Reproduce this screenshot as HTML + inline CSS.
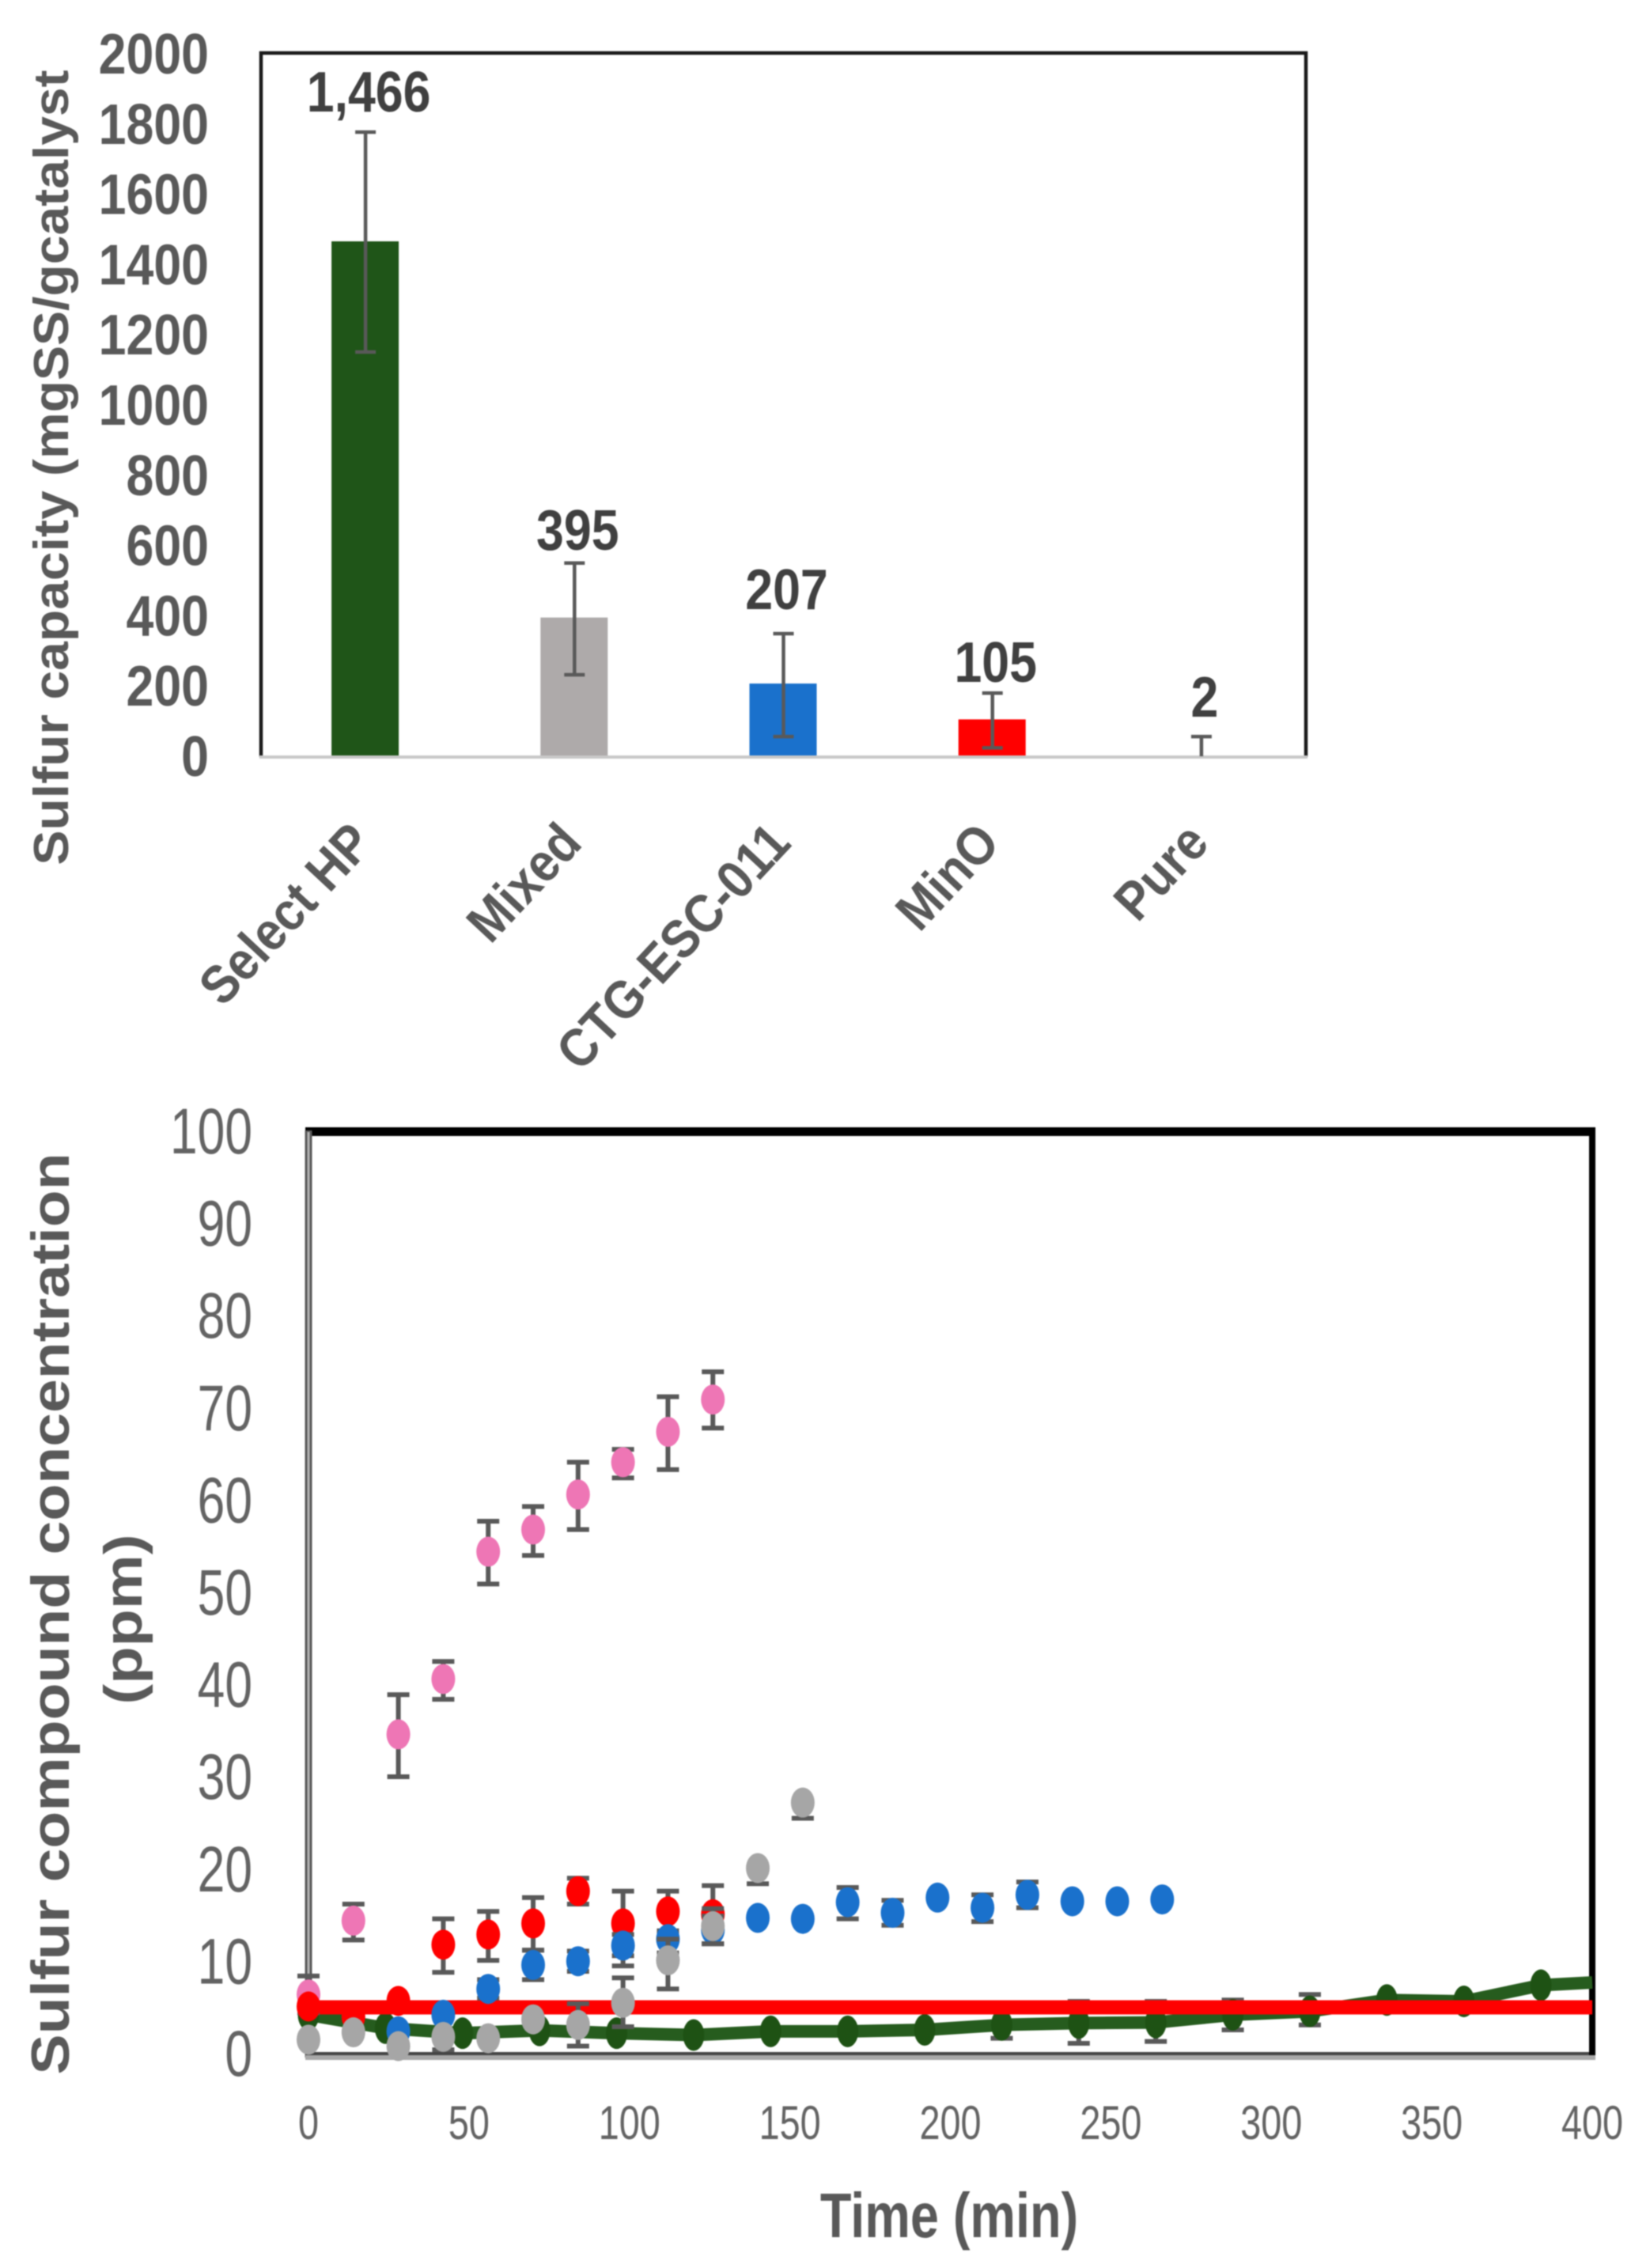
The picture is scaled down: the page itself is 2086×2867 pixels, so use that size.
<!DOCTYPE html>
<html lang="en">
<head>
<meta charset="utf-8">
<title>Sulfur capacity and breakthrough charts</title>
<style>
  html, body { margin: 0; padding: 0; background: #ffffff; }
  #figure { display: block; width: 2086px; height: 2867px; filter: blur(0.9px); }
  text { font-family: "Liberation Sans", sans-serif; }
</style>
</head>
<body>
<svg id="figure" xmlns="http://www.w3.org/2000/svg" width="2086" height="2867" viewBox="0 0 2086 2867"></svg>
<script>
// ---- Capacity bar chart data ----
var barCategories = ['Select HP', 'Mixed', 'CTG-ESC-011', 'MinO', 'Pure'];
var barValues = [1466, 395, 207, 105, 2];
var barLabels = ['1,466', '395', '207', '105', '2'];
var barErrHigh = [1777, 550, 349, 180, 56];
var barErrLow = [1151, 232, 56, 24, 0];
var barLabelLevels = [1836, 588, 419, 212, 113];
var barTicks = [0, 200, 400, 600, 800, 1000, 1200, 1400, 1600, 1800, 2000];

// ---- Breakthrough scatter chart data ----
var xTicks = [0, 50, 100, 150, 200, 250, 300, 350, 400];
var yTicks = [0, 10, 20, 30, 40, 50, 60, 70, 80, 90, 100];
var limitValue = 5.1;

var greenX = [0, 24, 48, 72, 96, 120, 144, 168, 192, 216, 240, 264, 288, 312, 336, 360, 384, 400];
var greenY = [4.3, 2.85, 2.3, 2.6, 2.3, 2.1, 2.5, 2.5, 2.66, 3.2, 3.4, 3.46, 4.3, 4.67, 5.9, 5.75, 7.5, 7.8];
var greenHi = [null, null, null, null, null, null, null, null, null, 4.7, 5.75, 5.75, 5.9, 6.5, null, null, null, null];
var greenLo = [null, null, null, null, null, null, null, null, null, 1.75, 1.2, 1.4, 2.66, 3.2, null, null, null, null];

var pinkX = [0, 14, 28, 42, 56, 70, 84, 98, 112, 126];
var pinkY = [6.5, 14.5, 34.7, 40.7, 54.5, 56.9, 60.7, 64.2, 67.5, 71];
var pinkHi = [8.5, 16.3, 39, 42.6, 57.8, 59.4, 64.2, 65.6, 71.3, 74];
var pinkLo = [4.5, 12.4, 30.1, 38.5, 51, 54.1, 56.9, 62.5, 63.4, 67.9];

var redX = [0, 14, 28, 42, 56, 70, 84, 98, 112, 126];
var redY = [5.2, 4.1, 5.8, 11.9, 13, 14.2, 17.7, 14.2, 15.5, 15.2];
var redHi = [null, null, null, 14.7, 15.5, 17, 19.1, 17.7, 17.7, 18.3];
var redLo = [null, null, null, 8.9, 10.2, 11.3, 16.3, 10.7, 13, 12];

var blueX = [28, 42, 56, 70, 84, 98, 112, 126, 140, 154, 168, 182, 196, 210, 224, 238, 252, 266];
var blueY = [2.5, 4.3, 7.1, 9.7, 10.1, 11.8, 12.5, 13.5, 14.8, 14.7, 16.5, 15.35, 17, 15.9, 17.3, 16.6, 16.6, 16.8];
var blueHi = [null, null, 8.1, 11.3, 11.2, 13, 13.4, 15, null, null, 18.1, 16.7, null, 17.3, 18.7, null, null, null];
var blueLo = [null, null, 6.1, 8.1, 9, 9.6, 11, 12, null, null, 14.7, 14, null, 14.4, 15.9, null, null, null];

var grayX = [0, 14, 28, 42, 56, 70, 84, 98, 112, 126, 140, 154];
var grayY = [1.6, 2.4, 0.9, 1.9, 1.75, 3.8, 3.2, 5.6, 10.2, 13.9, 20.2, 27.3];
var grayHi = [null, null, null, null, null, null, 5.5, 8.3, 12.5, 15.8, null, null];
var grayLo = [null, null, null, 0.5, null, null, 0.9, 3, 7.1, 12, 18.5, 25.6];

// ---- helpers ----
var SVG_NS = 'http://www.w3.org/2000/svg';
var root = document.getElementById('figure');

function make(parent, tag, attrs) {
  var node = document.createElementNS(SVG_NS, tag);
  for (var key in attrs) { node.setAttribute(key, attrs[key]); }
  parent.appendChild(node);
  return node;
}

function label(parent, x, y, str, size, weight, fill, sx, anchor, angle) {
  var node = make(parent, 'text', {
    'font-size': size,
    'font-weight': weight,
    'fill': fill,
    'text-anchor': anchor,
    'transform': 'translate(' + x + ' ' + y + ') rotate(' + angle + ') scale(' + sx + ' 1)'
  });
  node.textContent = str;
  return node;
}

function slug(str) {
  return String(str).toLowerCase().replace(/[^a-z0-9]+/g, '-');
}

// ---- bar chart scales ----
var barLeft = 330, barRight = 1651, barTop = 67, barBottom = 957;
var barY0 = 956, barYMax = 68;
function barX(i) { return barLeft + (barRight - barLeft) * (i + 0.5) / barCategories.length; }
function barY(v) { return barY0 - (barY0 - barYMax) * v / 2000; }

var barChart = make(root, 'g', {});



var barFrame = make(barChart, 'path', {
  d: 'M' + barLeft + ' ' + barBottom + 'V' + barTop + 'H' + barRight + 'V' + barBottom,
  fill: 'none', stroke: '#1a1a1a', 'stroke-width': 4.5
});



var barColors = ['#1f5518', '#aeaaaa', '#1a71cc', '#ff0000', '#ee76b5'];
barCategories.forEach(function (cat, i) {
  var cx = barX(i);
  var bar = make(barChart, 'rect', {
    x: cx - 43, y: barY(barValues[i]), width: 85,
    height: barY(0) - barY(barValues[i]), fill: barColors[i]
  });
  
  
});

var barBaseline = make(barChart, 'line', {
  x1: barLeft - 2, x2: barRight + 2, y1: barBottom, y2: barBottom, stroke: '#c8c8c8', 'stroke-width': 4
});



barCategories.forEach(function (cat, i) {
  var cx = barX(i);
  var hi = barY(barErrHigh[i]), lo = barY(barErrLow[i]);
  var err = make(barChart, 'path', {
    d: 'M' + cx + ' ' + hi + 'V' + lo + 'M' + (cx - 13) + ' ' + hi + 'H' + (cx + 13) +
       (barErrLow[i] > 0 ? 'M' + (cx - 13) + ' ' + lo + 'H' + (cx + 13) : ''),
    fill: 'none', stroke: '#595959', 'stroke-width': 4.5
  });
  
  

  var valueLabel = label(barChart, cx + 4, barY(barLabelLevels[i]), barLabels[i], 72, 'bold', '#404040', 0.87, 'middle', 0);
  
  

  var catLabel = label(barChart, barX(i) + 12, 1068, cat, 68, 'bold', '#595959', 0.9, 'end', -47);
  
  
});

barTicks.forEach(function (t) {
  var tick = label(barChart, 264, barY(t) + 25, String(t), 72, 'bold', '#595959', 0.87, 'end', 0);
  
  
});

var barYTitle = label(barChart, 86, 591, 'Sulfur capacity (mgSS/gcatalyst', 62, 'bold', '#595959', 1.065, 'middle', -90);



// ---- scatter chart scales ----
var plotX0 = 390, plotX1 = 2013, plotY0 = 2597, plotY1 = 1431;
function sx(v) { return plotX0 + (plotX1 - plotX0) * v / 400; }
function sy(v) { return plotY0 - (plotY0 - plotY1) * v / 100; }

var scatter = make(root, 'g', {});



var topFrame = make(scatter, 'rect', { x: 386, y: 1425, width: 1631, height: 11, fill: '#000000' });



var rightFrame = make(scatter, 'rect', { x: 2009, y: 1425, width: 8, height: 1179, fill: '#000000' });



var leftAxis = make(scatter, 'rect', { x: 385.5, y: 1429, width: 9, height: 1172, fill: '#5a5a5a' });



var leftAxisInner = make(scatter, 'rect', { x: 388.5, y: 1431, width: 3, height: 1168, fill: '#b4b4b4' });



var bottomAxis = make(scatter, 'rect', { x: 386, y: 2598, width: 1631, height: 6, fill: '#a8a8a8' });



var bottomAxisDark = make(scatter, 'rect', { x: 386, y: 2594, width: 1623, height: 4, fill: '#444444' });



xTicks.forEach(function (t) {
  var tick = label(scatter, sx(t), 2704, String(t), 60, 'normal', '#636363', 0.78, 'middle', 0);
  
  
});

yTicks.forEach(function (t) {
  var tick = label(scatter, 319, sy(t) + 27, String(t), 82, 'normal', '#636363', 0.76, 'end', 0);
  
  
});

var xTitle = label(scatter, 1200, 2828, 'Time (min)', 80, 'bold', '#595959', 0.81, 'middle', 0);



var yTitleA = label(scatter, 87, 2040, 'Sulfur compound concentration', 68, 'bold', '#595959', 1.13, 'middle', -90);



var yTitleB = label(scatter, 179, 2047, '(ppm)', 68, 'bold', '#595959', 1.14, 'middle', -90);



function drawSeries(name, xs, ys, his, los, color, rx, ry) {
  var group = make(scatter, 'g', {});
  
  
  xs.forEach(function (xv, i) {
    if (his[i] === null && los[i] === null) { return; }
    var cx = sx(xv);
    var d = '';
    if (his[i] !== null) {
      d += 'M' + cx + ' ' + sy(ys[i]) + 'V' + sy(his[i]) + 'M' + (cx - 14) + ' ' + sy(his[i]) + 'H' + (cx + 14);
    }
    if (los[i] !== null) {
      d += 'M' + cx + ' ' + sy(ys[i]) + 'V' + sy(los[i]) + 'M' + (cx - 14) + ' ' + sy(los[i]) + 'H' + (cx + 14);
    }
    var err = make(group, 'path', { d: d, fill: 'none', stroke: '#595959', 'stroke-width': 6 });
    
    
  });
  xs.forEach(function (xv, i) {
    if (xv >= 400) { return; }
    var dot = make(group, 'ellipse', { cx: sx(xv), cy: sy(ys[i]), rx: rx, ry: ry, fill: color });
    
    
  });
}

var greenPath = greenX.map(function (xv, i) {
  return (i ? 'L' : 'M') + sx(xv) + ' ' + sy(greenY[i]);
}).join('');
var greenLine = make(scatter, 'path', { d: greenPath, fill: 'none', stroke: '#265c1e', 'stroke-width': 16 });



drawSeries('select-hp', greenX, greenY, greenHi, greenLo, '#1e5214', 13.5, 20);

var limitLine = make(scatter, 'line', {
  x1: plotX0, x2: plotX1, y1: sy(limitValue), y2: sy(limitValue), stroke: '#ff0000', 'stroke-width': 18
});



drawSeries('pure', pinkX, pinkY, pinkHi, pinkLo, '#ee76b5', 15, 19);
drawSeries('mino', redX, redY, redHi, redLo, '#ff0000', 15, 19);
drawSeries('ctg-esc-011', blueX, blueY, blueHi, blueLo, '#1a71cc', 15, 19);
drawSeries('mixed', grayX, grayY, grayHi, grayLo, '#a6a6a6', 15, 19);
</script>
</body>
</html>
